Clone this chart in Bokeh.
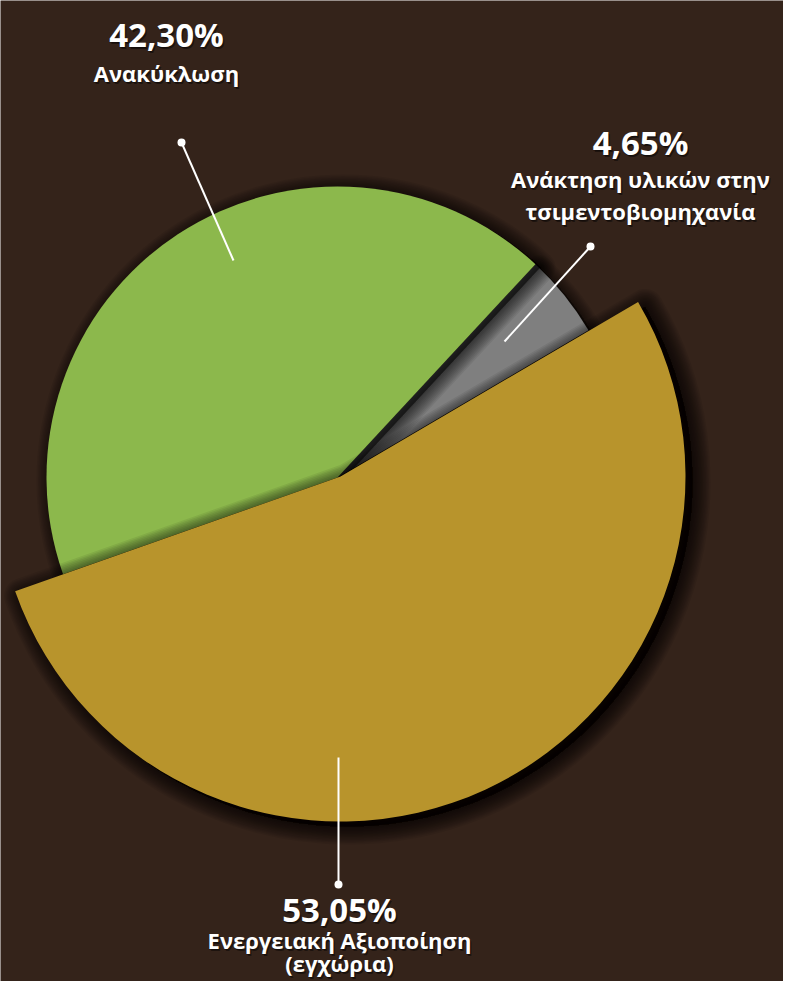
import math
from bokeh.plotting import figure
from bokeh.models import Range1d
from bokeh.core.properties import value
from bokeh.embed import file_html
from bokeh.resources import INLINE

# ---- data ----
categories = ["Ανάκτηση υλικών στην τσιμεντοβιομηχανία", "Ανακύκλωση", "Ενεργειακή Αξιοποίηση (εγχώρια)"]
percents = [4.65, 42.30, 53.05]
pct_labels = ["4,65%", "42,30%", "53,05%"]
name_lines = [["Ανάκτηση υλικών στην", "τσιμεντοβιομηχανία"], ["Ανακύκλωση"], ["Ενεργειακή Αξιοποίηση", "(εγχώρια)"]]
colors = ["#7F7F7F", "#8CB84C", "#B8942C"]
start_deg = 30.4

BG = "#34231A"
W, H = 783, 981

def sy(y):
    return H - y

p = figure(width=W, height=H, output_backend="svg", toolbar_location=None,
           x_range=Range1d(0, W), y_range=Range1d(0, H),
           min_border=0, background_fill_color=BG, border_fill_color=BG)
p.axis.visible = False
p.grid.visible = False
p.outline_line_color = None

# angles from data
angles = []
a = start_deg
for v in percents:
    span = v / 100.0 * 360.0
    angles.append((math.radians(a), math.radians(a + span)))
    a += span

# geometry (screen px)
centers = [(337, 477), (337, 477), (340, 476)]
radii = [291, 291, 345]

def shadow(i, dx, dy, layers, step, alpha):
    cx, cy = centers[i]
    s, e = angles[i]
    for k in range(layers, 0, -1):
        p.wedge(x=cx + dx, y=sy(cy + dy), radius=radii[i], start_angle=s, end_angle=e,
                fill_color="black", fill_alpha=alpha, line_color="black",
                line_alpha=alpha, line_width=step * k, line_join="round")

def slice_(i):
    cx, cy = centers[i]
    s, e = angles[i]
    p.wedge(x=cx, y=sy(cy), radius=radii[i], start_angle=s, end_angle=e,
            fill_color=colors[i], line_color=None)

# draw order: gray, green, gold with soft shadows
shadow(0, 4, 3, 8, 3, 0.07)
slice_(0)
shadow(1, 5, 3, 10, 3, 0.07)
slice_(1)
shadow(2, 7, 5, 12, 3, 0.07)
slice_(2)

# leader lines (screen px)
leaders = [((504, 341), (590, 246)), ((233, 260), (181, 142)), ((338, 757), (338, 884))]
for (x0, y0), (x1, y1) in leaders:
    p.line([x0, x1], [sy(y0), sy(y1)], line_color="white", line_width=2)
    p.scatter([x1], [sy(y1)], size=8, fill_color="white", line_color=None)

# labels
label_pos = [(640, 142, [178, 210]), (166, 34, [72]), (339, 909, [939, 962])]
font = value("Open Sans")

def shadow_text(x, y, t, size):
    for ox, oy, al in [(1.5, 2, 0.45), (0, 1, 0.3)]:
        p.text(x=[x + ox], y=[sy(y + oy)], text=[t], text_font=font, text_font_style="bold",
               text_font_size=size, text_color="black", text_alpha=al,
               text_align="center", text_baseline="middle")
    p.text(x=[x], y=[sy(y)], text=[t], text_font=font, text_font_style="bold",
           text_font_size=size, text_color="white",
           text_align="center", text_baseline="middle")

for i in range(len(categories)):
    x, y, ys = label_pos[i]
    shadow_text(x, y, pct_labels[i], "33px")
    for line, ly in zip(name_lines[i], ys):
        shadow_text(x, ly, line, "22px")

open("out.html", "w").write(file_html(p, INLINE))
